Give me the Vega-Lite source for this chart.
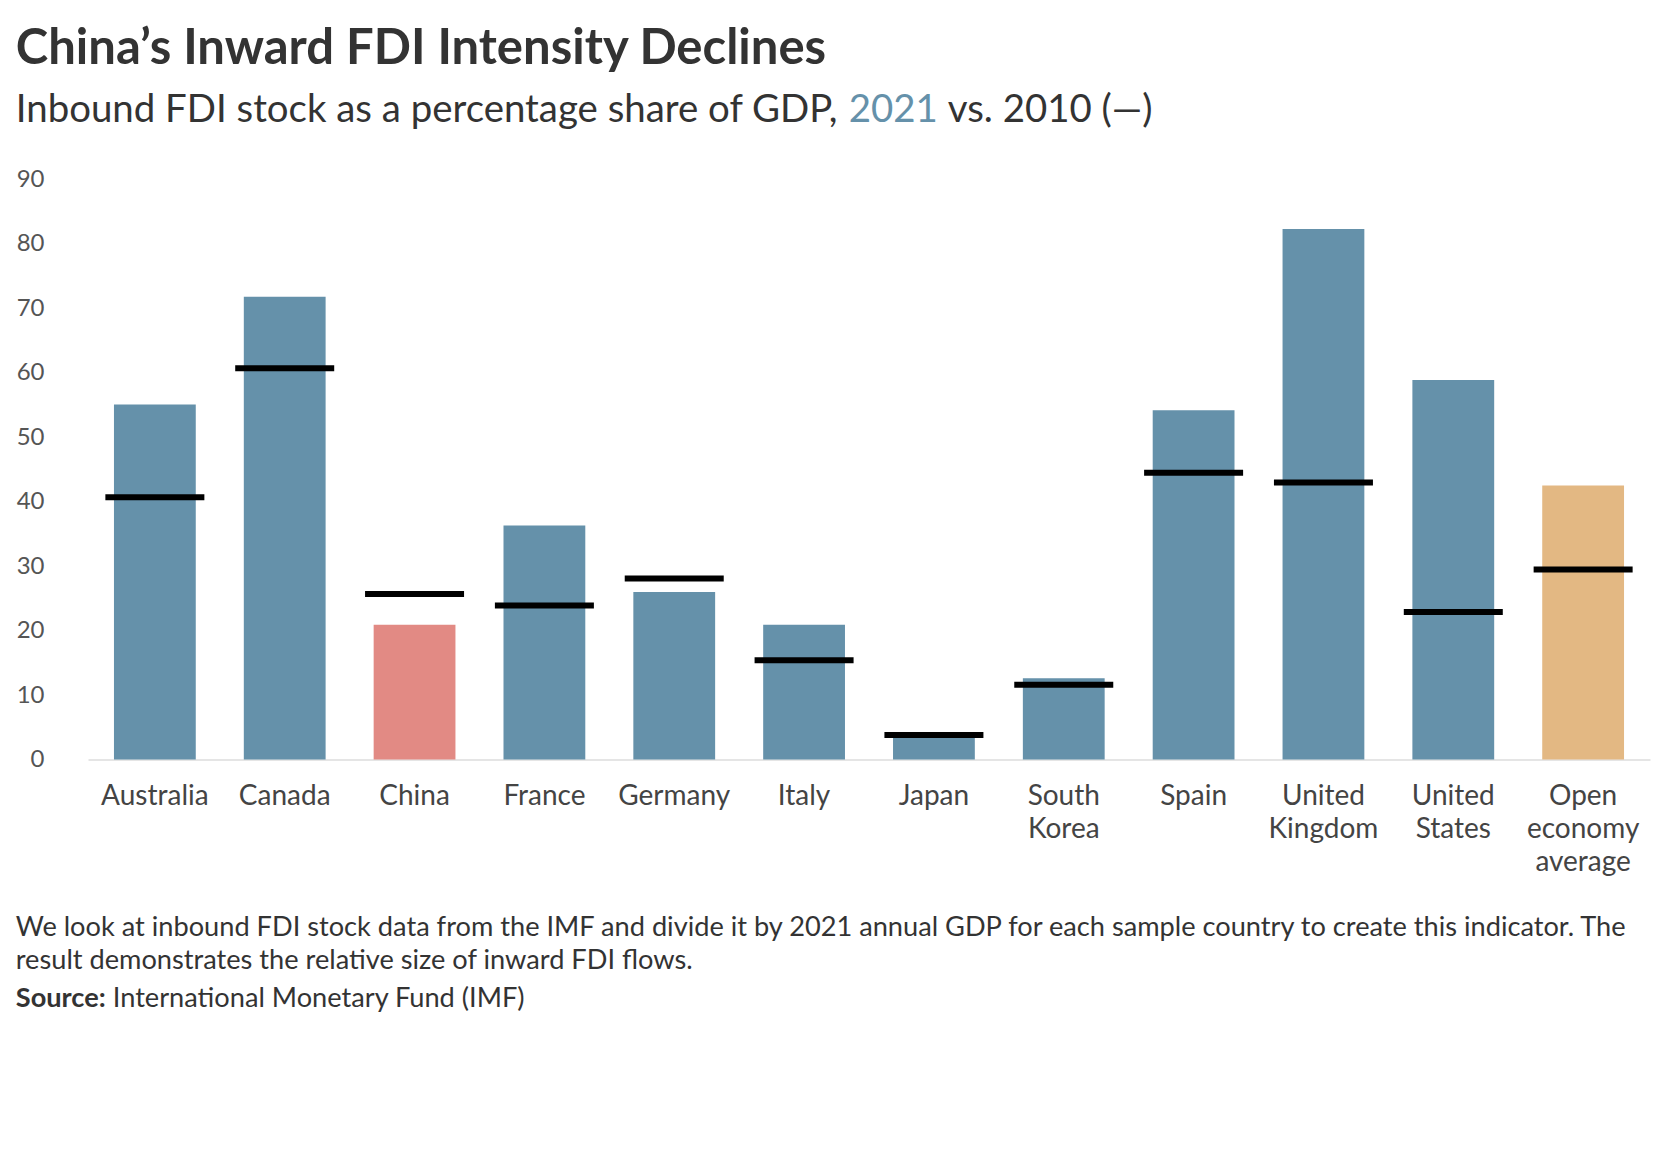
{
  "$schema": "https://vega.github.io/schema/vega-lite/v6.json",
  "background": "white",
  "padding": {"left": 15, "top": 25, "right": 5, "bottom": 5},
  "config": {"font": "Lato", "view": {"stroke": null}},
  "title": {
    "text": "China’s Inward FDI Intensity Declines",
    "anchor": "start",
    "frame": "bounds",
    "font": "Lato",
    "fontSize": 49,
    "fontWeight": "bold",
    "color": "#333333",
    "offset": 17
  },
  "spacing": 30.5,
  "vconcat": [
    {
      "spacing": 9,
      "hconcat": [
        {
          "width": 1,
          "height": 1,
          "data": {"values": [{"k": 1}]},
          "mark": {"type": "point", "opacity": 0},
          "encoding": {},
          "title": {"text": "Inbound FDI stock as a percentage share of GDP,", "anchor": "start", "font": "Lato", "fontSize": 38.4, "fontWeight": "normal", "color": "#333333", "dx": -70, "offset": 0}
        },
        {
          "width": 1,
          "height": 1,
          "data": {"values": [{"k": 1}]},
          "mark": {"type": "point", "opacity": 0},
          "encoding": {},
          "title": {"text": "2021", "anchor": "start", "font": "Lato", "fontSize": 38.4, "fontWeight": "normal", "color": "#6591AA", "dx": -70, "offset": 0}
        },
        {
          "width": 1,
          "height": 1,
          "data": {"values": [{"k": 1}]},
          "mark": {"type": "point", "opacity": 0},
          "encoding": {},
          "title": {"text": "vs. 2010 (—)", "anchor": "start", "font": "Lato", "fontSize": 38.4, "fontWeight": "normal", "color": "#333333", "dx": -70, "offset": 0}
        }
      ]
    },
    {
      "spacing": 37,
      "vconcat": [
        {
          "width": 1562,
          "height": 580,
          "data": {
            "values": [
              {"country": "Australia", "v2021": 55.1, "v2010": 40.7, "group": "Other"},
              {"country": "Canada", "v2021": 71.8, "v2010": 60.7, "group": "Other"},
              {"country": "China", "v2021": 20.9, "v2010": 25.7, "group": "China"},
              {"country": "France", "v2021": 36.3, "v2010": 23.9, "group": "Other"},
              {"country": "Germany", "v2021": 26.0, "v2010": 28.1, "group": "Other"},
              {"country": "Italy", "v2021": 20.9, "v2010": 15.4, "group": "Other"},
              {"country": "Japan", "v2021": 3.5, "v2010": 3.8, "group": "Other"},
              {"country": "South Korea", "v2021": 12.6, "v2010": 11.6, "group": "Other"},
              {"country": "Spain", "v2021": 54.2, "v2010": 44.5, "group": "Other"},
              {"country": "United Kingdom", "v2021": 82.3, "v2010": 43.0, "group": "Other"},
              {"country": "United States", "v2021": 58.9, "v2010": 22.9, "group": "Other"},
              {"country": "Open economy average", "v2021": 42.5, "v2010": 29.5, "group": "Average"}
            ]
          },
          "encoding": {
            "x": {
              "field": "country",
              "type": "nominal",
              "sort": null,
              "scale": {"paddingInner": 0.37, "paddingOuter": 0.2},
              "axis": {
                "title": null,
                "labelAngle": 0,
                "labelExpr": "split(datum.label, ' ')",
                "labelFont": "Lato",
                "labelFontSize": 28,
                "labelColor": "#444444",
                "labelPadding": 23,
                "labelLineHeight": 33,
                "ticks": false,
                "domainColor": "#dddddd",
                "domainWidth": 1.5
              }
            }
          },
          "layer": [
            {
              "mark": {"type": "bar"},
              "encoding": {
                "y": {
                  "field": "v2021",
                  "type": "quantitative",
                  "scale": {"domain": [0, 90], "nice": false},
                  "axis": {
                    "title": null,
                    "values": [0, 10, 20, 30, 40, 50, 60, 70, 80, 90],
                    "grid": false,
                    "domain": false,
                    "ticks": false,
                    "labelFont": "Lato",
                    "labelFontSize": 24,
                    "labelColor": "#555555",
                    "labelPadding": 44
                  }
                },
                "color": {
                  "field": "group",
                  "type": "nominal",
                  "scale": {"domain": ["China", "Average", "Other"], "range": ["#E28A84", "#E3B883", "#6591AA"]},
                  "legend": null
                }
              }
            },
            {
              "mark": {"type": "tick", "color": "#000000", "thickness": 6, "size": 99, "opacity": 1},
              "encoding": {
                "y": {"field": "v2010", "type": "quantitative", "axis": {"title": null}}
              }
            }
          ]
        },
        {
          "spacing": 3,
          "vconcat": [
            {
              "width": 1,
              "height": 1,
              "data": {"values": [{"k": 1}]},
              "mark": {"type": "point", "opacity": 0},
              "encoding": {},
              "title": {
                "text": [
                  "We look at inbound FDI stock data from the IMF and divide it by 2021 annual GDP for each sample country to create this indicator. The",
                  "result demonstrates the relative size of inward FDI flows."
                ],
                "anchor": "start",
                "font": "Lato",
                "fontSize": 27.2,
                "fontWeight": "normal",
                "color": "#333333",
                "lineHeight": 33,
                "dx": -70,
                "offset": 0
              }
            },
            {
              "spacing": 6,
              "hconcat": [
                {
                  "width": 1,
                  "height": 1,
                  "data": {"values": [{"k": 1}]},
                  "mark": {"type": "point", "opacity": 0},
                  "encoding": {},
                  "title": {"text": "Source:", "anchor": "start", "font": "Lato", "fontSize": 27.2, "fontWeight": "bold", "color": "#333333", "dx": -70, "offset": 0}
                },
                {
                  "width": 1,
                  "height": 1,
                  "data": {"values": [{"k": 1}]},
                  "mark": {"type": "point", "opacity": 0},
                  "encoding": {},
                  "title": {"text": "International Monetary Fund (IMF)", "anchor": "start", "font": "Lato", "fontSize": 27.2, "fontWeight": "normal", "color": "#333333", "dx": -70, "offset": 0}
                }
              ]
            }
          ]
        }
      ]
    }
  ]
}
